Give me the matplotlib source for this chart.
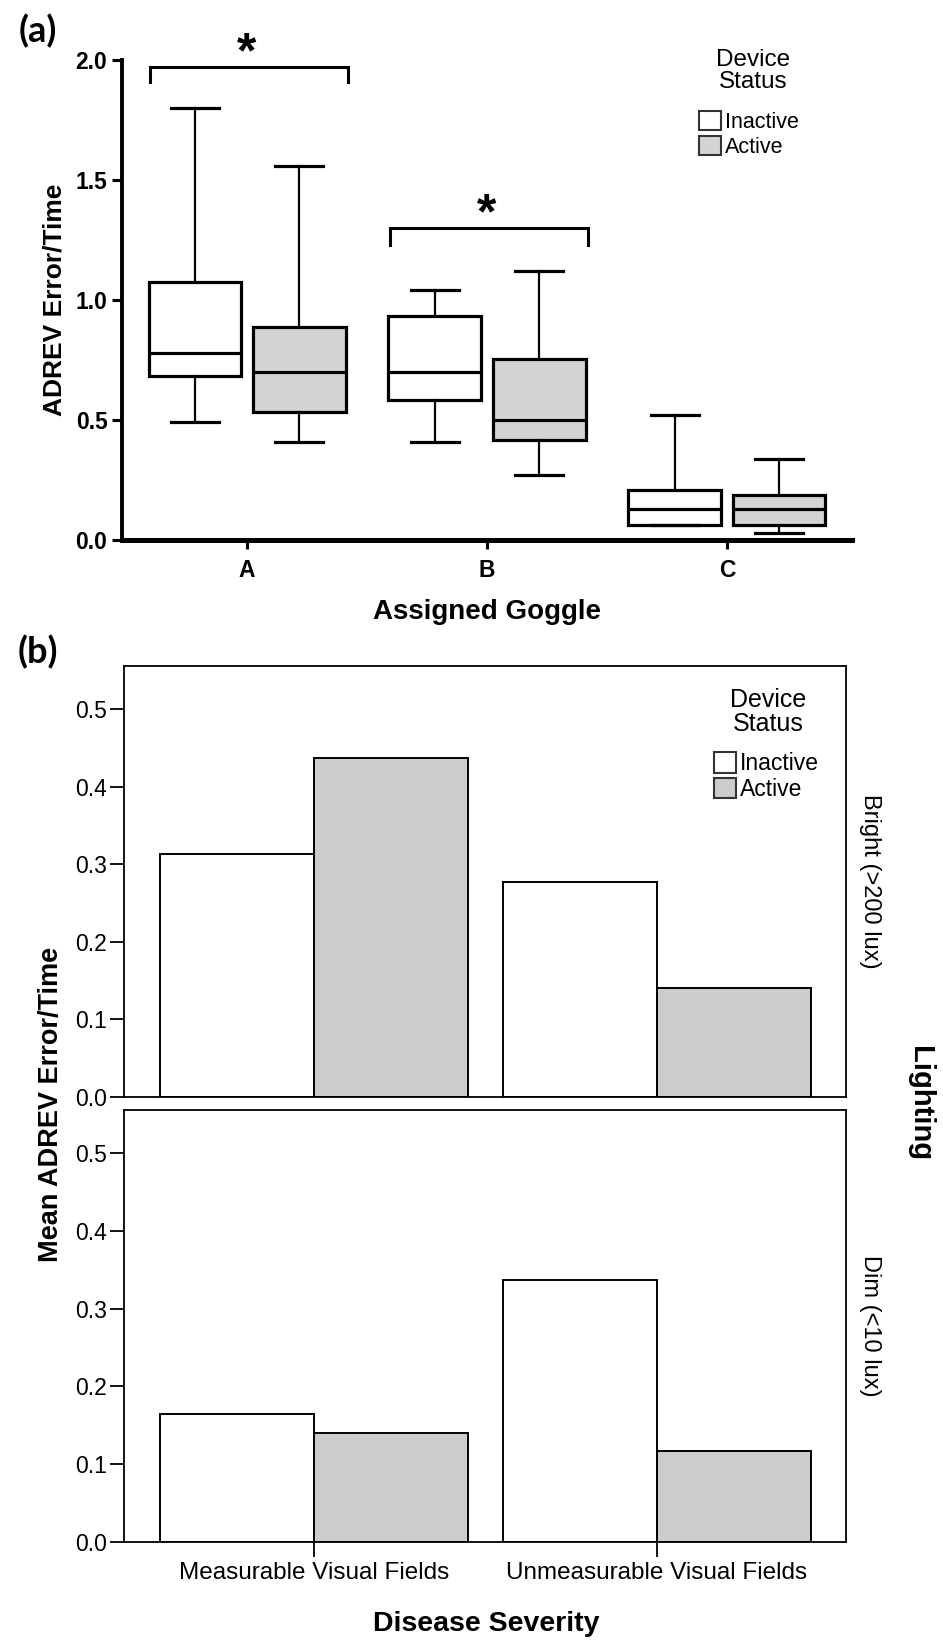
import numpy as np
import matplotlib
matplotlib.use('Agg')
import matplotlib.pyplot as plt
from matplotlib.patches import Patch
from matplotlib.ticker import FormatStrFormatter

plt.rcParams['font.family'] = ['Liberation Sans', 'DejaVu Sans']

# ---- panel (a): ADREV error/time by goggle, box summaries
goggles = ['A', 'B', 'C']
inactive_lo = [0.49, 0.41, 0.064]
inactive_q1 = [0.685, 0.583, 0.064]
inactive_med = [0.78, 0.70, 0.128]
inactive_q3 = [1.074, 0.935, 0.208]
inactive_hi = [1.80, 1.04, 0.52]
active_lo = [0.41, 0.27, 0.03]
active_q1 = [0.534, 0.418, 0.064]
active_med = [0.70, 0.50, 0.128]
active_q3 = [0.888, 0.756, 0.188]
active_hi = [1.56, 1.12, 0.338]
sig_groups = [0, 1]          # A and B
sig_bracket_y = [1.97, 1.30]
sig_drop = [0.062, 0.072]

# ---- panel (b): mean ADREV error/time by disease severity and lighting
severity = ['Measurable Visual Fields', 'Unmeasurable Visual Fields']
bright_inactive = [0.314, 0.277]
bright_active = [0.437, 0.140]
dim_inactive = [0.164, 0.337]
dim_active = [0.140, 0.117]

status = ['Inactive', 'Active']
gray_a = '#d4d4d4'
gray_b = '#cccccc'

W, H = 943, 1642
fig = plt.figure(figsize=(W / 100, H / 100), dpi=100)


def px_axes(l, t, r, b):
    return fig.add_axes([l / W, 1 - b / H, (r - l) / W, (b - t) / H])


def ftext(x, y, s, **kw):
    return fig.text(x / W, 1 - y / H, s, ha='center', va='center', **kw)


# ================= (a) =================
ax = px_axes(122, 60, 852, 540)
x = np.arange(len(goggles))
off, bw = 0.218, 0.385


def stats(lo, q1, med, q3, hi):
    return [dict(whislo=a, q1=b, med=c, q3=d, whishi=e, fliers=[])
            for a, b, c, d, e in zip(lo, q1, med, q3, hi)]


for st, pos, fc in [(stats(inactive_lo, inactive_q1, inactive_med, inactive_q3, inactive_hi), x - off, 'white'),
                    (stats(active_lo, active_q1, active_med, active_q3, active_hi), x + off, gray_a)]:
    ax.bxp(st, positions=pos, widths=bw, capwidths=0.2, patch_artist=True,
           showfliers=False, manage_ticks=False,
           boxprops=dict(facecolor=fc, edgecolor='black', linewidth=2.3),
           medianprops=dict(color='black', linewidth=2.3),
           whiskerprops=dict(color='black', linewidth=1.6),
           capprops=dict(color='black', linewidth=2.3))

for g, yb, d in zip(sig_groups, sig_bracket_y, sig_drop):
    ax.plot([g - 0.405, g - 0.405, g + 0.42, g + 0.42], [yb - d, yb, yb, yb - d],
            color='black', lw=2.2, clip_on=False, solid_joinstyle='miter')
    ax.annotate('*', xy=(g, yb), xytext=(0, 0), textcoords='offset points',
                ha='center', va='baseline', fontsize=36, fontweight='bold',
                annotation_clip=False)

ax.set_xlim(-0.521, 2.521)
ax.set_ylim(0, 2.0)
ax.set_yticks([0, 0.5, 1.0, 1.5, 2.0])
ax.yaxis.set_major_formatter(FormatStrFormatter('%.1f'))
ax.set_xticks(x)
ax.set_xticklabels(goggles)
for s in ['top', 'right']:
    ax.spines[s].set_visible(False)
ax.spines['left'].set_linewidth(2.8)
ax.spines['bottom'].set_linewidth(3.6)
ax.tick_params(axis='y', length=7.5, width=2.2, pad=3, labelsize=16.5)
ax.tick_params(axis='x', length=6.5, width=2.2, pad=7, labelsize=16.5)
for lab in ax.get_xticklabels() + ax.get_yticklabels():
    lab.set_fontweight('bold')

ftext(753, 71, 'Device\nStatus', fontsize=17.5, linespacing=1.0)
handles = [Patch(facecolor=c, edgecolor='#333333', lw=1.5) for c in ['white', gray_a]]
ax.legend(handles, status, loc='upper left', bbox_to_anchor=(699 / W, 1 - 111 / H),
          bbox_transform=fig.transFigure, frameon=False, fontsize=15.5,
          handlelength=1.0, handleheight=1.0, handletextpad=0.2,
          labelspacing=0.12, borderpad=0, borderaxespad=0)

ftext(55, 300, 'ADREV Error/Time', fontsize=19, fontweight='bold', rotation=90)
ftext(487, 612, 'Assigned Goggle', fontsize=20, fontweight='bold')
ftext(38, 31, '(a)', fontsize=26, fontweight='bold', family=['Lato', 'DejaVu Sans'])

# ================= (b) =================
ax_top = px_axes(124, 666, 846, 1097)
ax_bot = px_axes(124, 1110, 846, 1541.5)
xs = np.arange(len(severity))
w = 0.449

for a, vin, vact in [(ax_top, bright_inactive, bright_active),
                     (ax_bot, dim_inactive, dim_active)]:
    a.bar(xs - w / 2, vin, w, color='white', edgecolor='black', lw=1.4)
    a.bar(xs + w / 2, vact, w, color=gray_b, edgecolor='black', lw=1.4)
    a.set_xlim(-0.554, 1.551)
    a.set_ylim(0, 0.556)
    a.set_yticks(np.arange(0, 0.51, 0.1))
    a.yaxis.set_major_formatter(FormatStrFormatter('%.1f'))
    a.set_xticks(xs)
    for s in a.spines.values():
        s.set_linewidth(1.3)
    a.tick_params(axis='y', length=10, width=1.3, pad=2, labelsize=16.5)

ax_top.tick_params(axis='x', length=0, labelbottom=False)
ax_bot.set_xticklabels(severity)
ax_bot.tick_params(axis='x', length=11, width=1.3, pad=4, labelsize=17.5)

ftext(768, 712, 'Device\nStatus', fontsize=18, linespacing=1.0)
handles_b = [Patch(facecolor=c, edgecolor='#333333', lw=1.5) for c in ['white', gray_b]]
ax_top.legend(handles_b, status, loc='upper left', bbox_to_anchor=(714 / W, 1 - 752 / H),
              bbox_transform=fig.transFigure, frameon=False, fontsize=16.5,
              handlelength=0.95, handleheight=1.0, handletextpad=0.2,
              labelspacing=0.12, borderpad=0, borderaxespad=0)

ftext(870, 881, 'Bright (>200 lux)', fontsize=17, rotation=270)
ftext(870, 1326, 'Dim (<10 lux)', fontsize=17, rotation=270)
ftext(920, 1104, 'Lighting', fontsize=21, fontweight='bold', rotation=270)
ftext(51, 1104, 'Mean ADREV Error/Time', fontsize=19.5, fontweight='bold', rotation=90)
ftext(486, 1624, 'Disease Severity', fontsize=20.5, fontweight='bold')
ftext(38, 652, '(b)', fontsize=26, fontweight='bold', family=['Lato', 'DejaVu Sans'])

fig.savefig('out.png', dpi=100)
